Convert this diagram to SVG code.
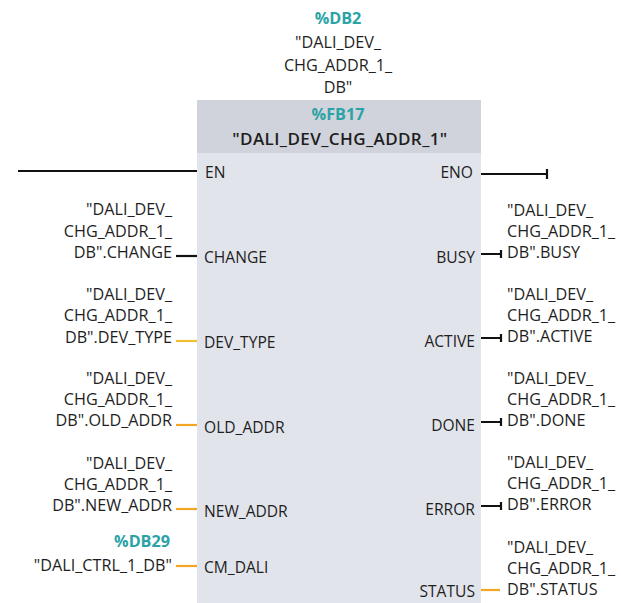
<svg xmlns="http://www.w3.org/2000/svg" width="621" height="603" viewBox="0 0 621 603">
  <style>
    text { font-family: "Open Sans", "Noto Sans", "DejaVu Sans", sans-serif; font-size: 16.2px; fill: #1e1e1e; }
    .pin { font-size: 15.6px; }
    .mid { text-anchor: middle; }
    .end { text-anchor: end; }
    .ref { font-weight: bold; fill: #2ba3a6; }
    .title { font-weight: 600; font-size: 17px; letter-spacing: 0.4px; }
    .bool { stroke: #111; stroke-width: 2.2; fill: none; }
    .data { stroke: #f2a623; stroke-width: 2.2; fill: none; }
    .dtype { stroke: #f0c032; stroke-width: 2.2; fill: none; }
  </style>

  <rect width="621" height="603" fill="#ffffff"/>

  <!-- instance data block -->
  <g id="instance-db">
    <text class="mid ref" x="338" y="24">%DB2</text>
    <text class="mid" x="338" y="48">"DALI_DEV_</text>
    <text class="mid" x="338" y="71">CHG_ADDR_1_</text>
    <text class="mid" x="338" y="93">DB"</text>
  </g>

  <!-- function block -->
  <g id="fb17">
    <rect x="197" y="100" width="284" height="503" fill="#e2e4eb"/>
    <rect x="197" y="100" width="284" height="53" fill="#d0d3db"/>
    <text class="mid ref" x="338" y="120">%FB17</text>
    <text class="mid title" x="340" y="145">"DALI_DEV_CHG_ADDR_1"</text>
    <text class="pin" x="205" y="178">EN</text>
    <text class="pin end" x="473" y="178">ENO</text>
    <text class="pin" x="204" y="263">CHANGE</text>
    <text class="pin" x="204" y="348">DEV_TYPE</text>
    <text class="pin" x="204" y="433">OLD_ADDR</text>
    <text class="pin" x="204" y="517">NEW_ADDR</text>
    <text class="pin" x="204" y="573">CM_DALI</text>
    <text class="pin end" x="475" y="263">BUSY</text>
    <text class="pin end" x="475" y="347">ACTIVE</text>
    <text class="pin end" x="475" y="431">DONE</text>
    <text class="pin end" x="475" y="515">ERROR</text>
    <text class="pin end" x="475" y="597">STATUS</text>
  </g>

  <!-- input operands -->
  <g id="in-change">
    <text class="end" x="172" y="215">"DALI_DEV_</text>
    <text class="end" x="172" y="237">CHG_ADDR_1_</text>
    <text class="end" x="172" y="258">DB".CHANGE</text>
  </g>
  <g id="in-dev-type">
    <text class="end" x="172" y="300">"DALI_DEV_</text>
    <text class="end" x="172" y="321">CHG_ADDR_1_</text>
    <text class="end" x="172" y="343">DB".DEV_TYPE</text>
  </g>
  <g id="in-old-addr">
    <text class="end" x="172" y="384">"DALI_DEV_</text>
    <text class="end" x="172" y="405">CHG_ADDR_1_</text>
    <text class="end" x="172" y="426">DB".OLD_ADDR</text>
  </g>
  <g id="in-new-addr">
    <text class="end" x="172" y="469">"DALI_DEV_</text>
    <text class="end" x="172" y="490">CHG_ADDR_1_</text>
    <text class="end" x="172" y="511">DB".NEW_ADDR</text>
  </g>
  <g id="in-cm-dali">
    <text class="end ref" x="170" y="547">%DB29</text>
    <text class="end" x="172" y="571">"DALI_CTRL_1_DB"</text>
  </g>

  <!-- output operands -->
  <g id="out-busy">
    <text x="507" y="216">"DALI_DEV_</text>
    <text x="507" y="237">CHG_ADDR_1_</text>
    <text x="507" y="258">DB".BUSY</text>
  </g>
  <g id="out-active">
    <text x="507" y="300">"DALI_DEV_</text>
    <text x="507" y="321">CHG_ADDR_1_</text>
    <text x="507" y="342">DB".ACTIVE</text>
  </g>
  <g id="out-done">
    <text x="507" y="384">"DALI_DEV_</text>
    <text x="507" y="405">CHG_ADDR_1_</text>
    <text x="507" y="426">DB".DONE</text>
  </g>
  <g id="out-error">
    <text x="507" y="468">"DALI_DEV_</text>
    <text x="507" y="489">CHG_ADDR_1_</text>
    <text x="507" y="510">DB".ERROR</text>
  </g>
  <g id="out-status">
    <text x="507" y="553">"DALI_DEV_</text>
    <text x="507" y="574">CHG_ADDR_1_</text>
    <text x="507" y="595">DB".STATUS</text>
  </g>

  <!-- wiring -->
  <g id="connectors">
    <line class="bool" x1="18" y1="171" x2="197" y2="171"/>
    <path class="bool" d="M481 174 H547 M547 169 V179"/>

    <line class="bool" x1="176" y1="256" x2="197" y2="256"/>
    <line class="dtype" x1="176" y1="341" x2="197" y2="341"/>
    <line class="data" x1="176" y1="425" x2="197" y2="425"/>
    <line class="data" x1="176" y1="509" x2="197" y2="509"/>
    <line class="data" x1="176" y1="566" x2="197" y2="566"/>

    <path class="bool" d="M481 254 H501 M501 250 V258"/>
    <path class="bool" d="M481 338 H501 M501 334 V342"/>
    <path class="bool" d="M481 422 H501 M501 418 V426"/>
    <path class="bool" d="M481 506 H501 M501 502 V510"/>
    <line class="data" x1="481" y1="590" x2="500" y2="590"/>
  </g>
</svg>
